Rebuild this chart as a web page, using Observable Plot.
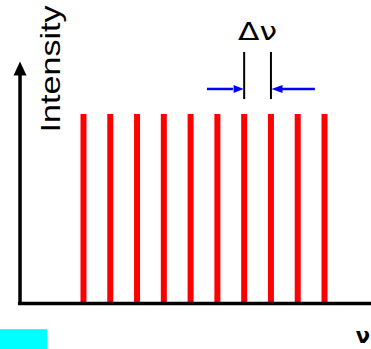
<!DOCTYPE html>
<html>
<head>
<meta charset="utf-8">
<script src="https://cdn.jsdelivr.net/npm/d3@7"></script>
<script src="https://cdn.jsdelivr.net/npm/@observablehq/plot@0.6"></script>
<style>
  html, body { margin: 0; padding: 0; background: #fff; }
  #chart svg { display: block; }
</style>
</head>
<body>
<div id="chart"></div>
<script>
// ---- data ----
const modeFrequencies = [1, 2, 3, 4, 5, 6, 7, 8, 9, 10];
const modeIntensities = [1, 1, 1, 1, 1, 1, 1, 1, 1, 1];
const spacingModes = [7, 8];
const yAxisLabel = ["Intensity"];
const xAxisLabel = ["\u03BD"];
const spacingLabel = ["\u0394\u03BD"];

const modes = modeFrequencies.map((f, i) => ({f, I: modeIntensities[i]}));

// ---- layout (data units) ----
const X0 = -2.099, X1 = 11.755;   // horizontal frequency extent
const Y0 = -0.243, Y1 = 1.603;    // vertical intensity extent
const axisX = -1.37;              // position of the intensity axis
const axisTop = 1.24;
const arrowTipY = 1.28;
const tickLo = 1.079, tickHi = 1.328;
const blueY = 1.135;

function head(dir, len, wid) {
  return {
    draw(ctx) {
      if (dir === "up") { ctx.moveTo(0, 0); ctx.lineTo(-wid / 2, len); ctx.lineTo(wid / 2, len); }
      else if (dir === "right") { ctx.moveTo(0, 0); ctx.lineTo(-len, -wid / 2); ctx.lineTo(-len, wid / 2); }
      else { ctx.moveTo(0, 0); ctx.lineTo(len, -wid / 2); ctx.lineTo(len, wid / 2); }
      ctx.closePath();
    }
  };
}

const chart = Plot.plot({
  width: 371,
  height: 349,
  margin: 0,
  x: {domain: [X0, X1], axis: null},
  y: {domain: [Y0, Y1], axis: null},
  marks: [
    // cyan block bottom-left
    Plot.rect([0], {x1: X0, x2: -0.344, y1: Y0, y2: -0.138, fill: "#00FFFF"}),
    // comb lines
    Plot.ruleX(modes, {x: "f", y1: 0, y2: "I", stroke: "#FF0000", strokeWidth: 6, strokeLinecap: "butt"}),
    // axes
    Plot.ruleY([0], {x1: axisX - 0.06, x2: X1, stroke: "#000", strokeWidth: 3.5}),
    Plot.ruleX([axisX], {y1: -0.01, y2: axisTop, stroke: "#000", strokeWidth: 3.5}),
    Plot.dot([0], {x: axisX, y: arrowTipY, symbol: head("up", 14, 13), fill: "#000", stroke: "none"}),
    // spacing ticks
    Plot.ruleX(spacingModes, {x: d => d, y1: tickLo, y2: tickHi, stroke: "#000", strokeWidth: 2}),
    // blue arrows
    Plot.ruleY([blueY], {x1: 5.63, x2: 6.6, stroke: "#0000FF", strokeWidth: 2.5}),
    Plot.ruleY([blueY], {x1: 8.4, x2: 9.66, stroke: "#0000FF", strokeWidth: 2.5}),
    Plot.dot([0], {x: spacingModes[0] - 0.02, y: blueY, symbol: head("right", 10, 8), fill: "#0000FF", stroke: "none"}),
    Plot.dot([0], {x: spacingModes[1] + 0.02, y: blueY, symbol: head("left", 11, 8), fill: "#0000FF", stroke: "none"}),
    // labels
    Plot.text(spacingLabel, {x: (spacingModes[0] + spacingModes[1]) / 2, y: 1.392, text: d => d,
      textAnchor: "middle", lineAnchor: "bottom", fontSize: 24, fontFamily: "DejaVu Sans", fill: "#000", className: "dnu"}),
    Plot.text(yAxisLabel, {x: 0.115, y: 0.905, text: d => d, rotate: -90,
      textAnchor: "start", lineAnchor: "bottom", fontSize: 28, fontFamily: "Liberation Sans", fill: "#000", className: "ylab"}),
    Plot.text(xAxisLabel, {x: 11.17, y: -0.206, text: d => d,
      textAnchor: "start", lineAnchor: "bottom", fontSize: 21, fontFamily: "DejaVu Sans", fontWeight: "bold", fill: "#000"})
  ]
});

document.getElementById("chart").appendChild(chart);
d3.select(chart).selectAll(".ylab text").attr("textLength", 127).attr("lengthAdjust", "spacingAndGlyphs");
d3.select(chart).selectAll(".dnu text").attr("textLength", 39).attr("lengthAdjust", "spacingAndGlyphs");
</script>
</body>
</html>
